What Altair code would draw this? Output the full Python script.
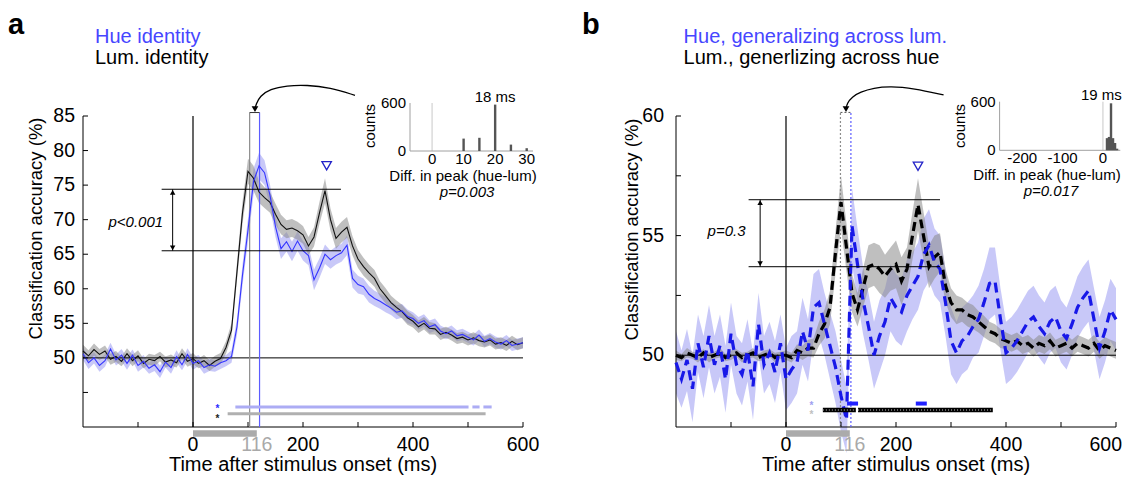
import altair as alt
import pandas as pd

FONT = "Liberation Sans"
W, H = 440, 311
XDOM = [-200, 600]

# ---------------- data ----------------
t = list(range(-200, 601, 10))

lum_a = [51.0, 50.3, 51.2, 50.5, 51.0, 49.8, 50.2, 49.5, 50.6, 49.6,
         50.3, 49.2, 49.8, 49.6, 50.2, 49.4, 49.7, 49.3, 50.6, 49.5,
         49.9, 49.2, 49.6, 48.9, 49.5, 49.9, 51.5, 54.0, 62.5, 71.0,
         77.0, 76.0, 74.0, 73.2, 72.5, 70.8, 69.3, 68.6, 68.8, 68.4,
         67.8, 66.2, 67.5, 71.0, 74.2, 70.0, 67.3, 68.2, 68.9, 66.2,
         64.3, 63.2, 62.3, 61.5, 60.0, 59.0, 58.0, 57.3, 56.7, 55.8,
         55.3, 54.5, 55.0, 54.3, 54.2, 53.4, 53.7, 53.3, 52.8, 53.0,
         52.6, 52.9, 52.5, 52.3, 52.6, 52.0, 52.2, 51.8, 52.4, 51.9, 52.2]
lum_a_sem = [0.9, 0.8, 0.9, 0.8, 0.8, 0.8, 0.8, 0.7, 0.8, 0.8,
             0.8, 0.7, 0.8, 0.8, 0.7, 0.8, 0.8, 0.7, 0.8, 0.8,
             0.8, 0.7, 0.8, 0.8, 0.8, 0.8, 0.9, 1.0, 1.3, 1.6,
             1.8, 1.8, 1.6, 1.5, 1.5, 1.5, 1.4, 1.3, 1.3, 1.3,
             1.3, 1.3, 1.4, 1.6, 1.8, 1.6, 1.5, 1.5, 1.5, 1.4,
             1.3, 1.3, 1.2, 1.2, 1.1, 1.1, 1.0, 1.0, 1.0, 1.0,
             0.9, 0.9, 0.9, 0.9, 0.8, 0.8, 0.8, 0.8, 0.8, 0.8,
             0.8, 0.8, 0.8, 0.8, 0.8, 0.8, 0.8, 0.8, 0.8, 0.8, 0.8]
hue_a = [50.6, 49.3, 50.0, 48.9, 49.6, 51.3, 49.7, 50.4, 49.2, 50.4,
         48.9, 49.5, 48.5, 49.0, 48.0, 49.4, 48.6, 50.2, 49.0, 50.5,
         49.2, 49.6, 48.6, 49.0, 48.8, 49.3, 49.6, 50.2, 54.5, 62.0,
         68.5, 75.5, 77.8, 76.8, 73.5, 69.0, 65.8, 66.8, 65.4, 66.9,
         65.5, 64.8, 61.3, 63.0, 65.0, 64.2, 64.8, 65.2, 66.3, 61.5,
         60.6, 60.3, 59.2, 58.6, 58.2, 57.7, 57.2, 56.6, 56.8, 56.0,
         55.7, 55.0, 55.4, 54.5, 54.8, 53.9, 53.5, 53.9, 53.2, 53.4,
         53.0, 52.6, 53.3, 52.4, 52.8, 52.3, 52.0, 52.5, 51.8, 52.0, 52.2]
hue_a_sem = [0.9, 0.9, 0.8, 0.9, 0.9, 0.9, 0.8, 0.9, 0.9, 0.8,
             0.9, 0.9, 0.8, 0.9, 0.9, 0.8, 0.9, 0.9, 0.8, 0.9,
             0.9, 0.8, 0.9, 0.9, 0.8, 0.9, 0.8, 0.9, 1.2, 1.5,
             1.7, 1.9, 1.9, 1.8, 1.6, 1.5, 1.5, 1.4, 1.4, 1.4,
             1.4, 1.4, 1.5, 1.4, 1.4, 1.3, 1.3, 1.3, 1.4, 1.3,
             1.3, 1.2, 1.2, 1.1, 1.1, 1.1, 1.0, 1.0, 1.0, 1.0,
             0.9, 0.9, 0.9, 0.9, 0.9, 0.8, 0.8, 0.8, 0.8, 0.8,
             0.8, 0.8, 0.8, 0.8, 0.8, 0.8, 0.8, 0.8, 0.8, 0.8, 0.8]

lum_b = [50.0, 49.9, 50.1, 50.0, 49.9, 50.1, 49.9, 50.0, 50.1, 49.9,
         50.0, 50.1, 49.9, 50.0, 50.1, 49.9, 50.0, 50.1, 49.9, 50.0,
         50.0, 49.9, 50.2, 50.1, 50.3, 50.3, 50.9, 51.3, 52.0, 54.3,
         56.4, 54.5, 52.6, 51.9, 52.8, 53.7, 53.8, 53.6, 53.3, 53.6,
         53.8, 53.1, 53.6, 55.0, 56.3, 55.0, 53.7, 54.1, 54.3, 52.9,
         52.2, 51.9, 51.9, 51.7, 51.6, 51.4, 51.2, 51.0, 50.9, 50.7,
         50.6, 50.5, 50.6, 50.4, 50.5, 50.3, 50.5, 50.4, 50.6, 50.3,
         50.4, 50.5, 50.3, 50.5, 50.4, 50.3, 50.5, 50.2, 50.4, 50.3, 50.2]
lum_b_sem = [0.2, 0.15, 0.2, 0.15, 0.2, 0.15, 0.2, 0.15, 0.2, 0.15,
             0.2, 0.15, 0.2, 0.15, 0.2, 0.15, 0.2, 0.15, 0.2, 0.15,
             0.2, 0.2, 0.25, 0.3, 0.35, 0.4, 0.5, 0.6, 0.7, 0.9,
             1.1, 1.0, 0.8, 0.7, 0.8, 0.9, 0.9, 1.0, 0.9, 0.9,
             1.0, 1.0, 0.9, 1.0, 1.1, 1.0, 0.9, 0.9, 0.8, 0.7,
             0.6, 0.6, 0.5, 0.5, 0.5, 0.45, 0.45, 0.4, 0.4, 0.4,
             0.35, 0.35, 0.35, 0.35, 0.35, 0.35, 0.35, 0.35, 0.35, 0.35,
             0.35, 0.35, 0.35, 0.35, 0.35, 0.35, 0.35, 0.35, 0.35, 0.35, 0.35]
hue_b = [49.7, 49.0, 49.8, 48.6, 50.5, 49.5, 50.8, 49.6, 50.4, 49.0,
         50.9, 49.6, 49.2, 50.2, 48.7, 51.3, 49.6, 50.1, 49.3, 50.5,
         49.0, 49.4, 49.7, 51.0, 50.2, 52.0, 52.2, 51.3, 50.4, 49.5,
         48.3, 47.3, 55.4, 53.8, 52.3, 51.2, 50.0, 50.8, 51.4, 52.4,
         52.0, 51.8, 52.5, 52.9, 53.3, 54.2, 54.6, 53.9, 53.6, 52.2,
         50.6, 50.1, 50.6, 50.8, 51.2, 51.5, 52.2, 53.0, 53.1, 51.5,
         50.1, 50.3, 50.6, 51.0, 51.4, 51.6, 51.2, 50.9, 51.4, 51.6,
         51.0, 50.7, 51.3, 52.0, 52.4, 52.7, 51.5, 50.3, 51.0, 51.9, 51.5]
hue_b_sem = [1.3, 1.2, 1.3, 1.4, 1.2, 1.3, 1.3, 1.2, 1.3, 1.4,
             1.3, 1.2, 1.3, 1.3, 1.4, 1.3, 1.2, 1.3, 1.3, 1.2,
             1.3, 1.4, 1.3, 1.4, 1.3, 1.4, 1.4, 1.3, 1.4, 1.5,
             1.5, 1.4, 1.6, 1.5, 1.4, 1.4, 1.4, 1.5, 1.4, 1.4,
             1.4, 1.4, 1.5, 1.4, 1.4, 1.5, 1.5, 1.4, 1.4, 1.4,
             1.4, 1.3, 1.4, 1.4, 1.3, 1.4, 1.4, 1.5, 1.4, 1.3,
             1.3, 1.3, 1.3, 1.3, 1.3, 1.3, 1.3, 1.3, 1.3, 1.3,
             1.3, 1.3, 1.3, 1.3, 1.3, 1.3, 1.3, 1.3, 1.3, 1.3, 1.3]

x_labels = [0, 116, 200, 400, 600]
x_ticks = [-100, 0, 100, 200, 300, 400, 500, 600]
stim = [0, 116]

# inset histograms (difference in peak latency, hue - lum)
a_bins = [10, 15, 20, 25, 30]
a_counts = [155, 165, 580, 80, 35]
b_bins = [10, 15, 20, 25, 30, 35]
b_counts = [150, 165, 580, 150, 90, 20]
ins_ylabels = [0, 600]

cfg_a = dict(
    letter="a", letter_x=-75, title1="Hue identity", title2="Lum. identity", title_x=12,
    ydom=[40, 85], ylabels=[50, 55, 60, 65, 70, 75, 80, 85],
    yticks=[45, 50, 55, 60, 65, 70, 75, 80, 85],
    ylab_pad=8, ytitle_x=-47.5, ytitle_y=112.5, edge_label=False,
    lum=lum_a, lum_sem=lum_a_sem, hue=hue_a, hue_sem=hue_a_sem, dashed=False,
    peaks=[103, 121], box_top=85.5,
    range_y=[74.4, 65.5], range_x=[-57, 269], arrow_x=-37,
    ptext="p<0.001", ptext_xy=[-104, 69.6],
    tri=[243, 77.8],
    sig_hue=[[77, 501], [508, 521], [528, 543]], sig_hue_y=42.9,
    sig_lum=[[63, 532]], sig_lum_y=41.9, star_x=48,
    curve_x=[294.5, 249.1, 206.7, 170.4, 140.0, 121.8, 114.5, 112.7],
    curve_y=[88.0, 89.1, 89.5, 89.4, 88.9, 87.9, 86.7, 86.0],
    ins_dom=[-7, 32], ins_xr=[327, 450], ins_yr=[35, -13], ins_xticks=[0, 10, 20, 30],
    bins=a_bins, counts=a_counts, diff_label="18 ms", diff_xy=[20, 671],
    ins_p="p=0.003", ins_p_x=384, ins_title_x=380, ins_ytitle_x=287,
)
cfg_b = dict(
    letter="b", letter_x=-94, title1="Hue, generalizing across lum.", title2="Lum., generlizing across hue",
    title_x=7.6,
    ydom=[47, 60], ylabels=[50, 55, 60], yticks=[50, 52.5, 55, 57.5, 60],
    ylab_pad=12, ytitle_x=-44, ytitle_y=113.5, edge_label=True,
    lum=lum_b, lum_sem=lum_b_sem, hue=hue_b, hue_sem=hue_b_sem, dashed=True,
    peaks=[99, 118], box_top=60.15,
    range_y=[56.5, 53.7], range_x=[-68, 280], arrow_x=-47,
    ptext="p=0.3", ptext_xy=[-108, 55.2],
    tri=[240, 57.9],
    sig_hue=[[111, 131], [236, 256]], sig_hue_y=47.98,
    sig_lum=[[67, 127], [131, 376]], sig_lum_y=47.71, star_x=50,
    curve_x=[286.5, 232.0, 189.6, 159.3, 135.1, 120.0, 110.9, 109.1],
    curve_y=[60.88, 61.15, 61.24, 61.17, 61.0, 60.8, 60.53, 60.29],
    ins_dom=[-256, 43], ins_xr=[323.6, 444.3], ins_yr=[34.3, -14.3], ins_xticks=[-200, -100, 0],
    bins=b_bins, counts=b_counts, diff_label="19 ms", diff_xy=[-4, 680],
    ins_p="p=0.017", ins_p_x=375, ins_title_x=371, ins_ytitle_x=284,
)

BLUE_LINE = "#3535ff"
BLUE_DASH = "#1818e8"
BLUE_TXT = "#4646ff"


def text_layer(s, x, y, **kw):
    return alt.Chart(pd.DataFrame({"s": [s]})).mark_text(font=FONT, **kw).encode(
        text="s:N", x=alt.value(x), y=alt.value(y))


def panel(c):
    xs = alt.Scale(domain=XDOM, nice=False, zero=False)
    ys = alt.Scale(domain=c["ydom"], nice=False, zero=False)

    def X(f):
        return alt.X(f, type="quantitative", scale=xs, axis=None)

    def Y(f):
        return alt.Y(f, type="quantitative", scale=ys, axis=None)

    df = pd.DataFrame({"t": t, "lum": c["lum"], "hue": c["hue"]})
    df["lum_lo"] = [v - s for v, s in zip(c["lum"], c["lum_sem"])]
    df["lum_hi"] = [v + s for v, s in zip(c["lum"], c["lum_sem"])]
    df["hue_lo"] = [v - s for v, s in zip(c["hue"], c["hue_sem"])]
    df["hue_hi"] = [v + s for v, s in zip(c["hue"], c["hue_sem"])]

    layers = []
    # bands
    layers.append(alt.Chart(df).mark_area(color="#8585f0", opacity=0.45).encode(
        x=X("t"), y=Y("hue_lo"), y2="hue_hi:Q"))
    layers.append(alt.Chart(df).mark_area(color="#8a8a8a", opacity=0.55).encode(
        x=X("t"), y=Y("lum_lo"), y2="lum_hi:Q"))

    # reference lines
    layers.append(alt.Chart(pd.DataFrame({"y": [50]})).mark_rule(color="black", strokeWidth=1).encode(y=Y("y")))
    layers.append(alt.Chart(pd.DataFrame({"x": [0]})).mark_rule(color="black", strokeWidth=1.2).encode(x=X("x")))

    # axis lines
    layers.append(alt.Chart(pd.DataFrame({"x": [XDOM[0]], "y0": [c["ydom"][0]], "y1": [c["ydom"][1]]})).mark_rule(
        color="black", strokeWidth=1).encode(x=X("x"), y=Y("y0"), y2="y1:Q"))
    layers.append(alt.Chart(pd.DataFrame({"y": [c["ydom"][0]], "x0": [XDOM[0]], "x1": [XDOM[1]]})).mark_rule(
        color="black", strokeWidth=1).encode(y=Y("y"), x=X("x0"), x2="x1:Q"))

    # peak latency lines and box
    ymin = c["ydom"][0]
    pk = pd.DataFrame({"x": c["peaks"], "y0": [ymin, ymin], "y1": [c["box_top"], c["box_top"]],
                       "col": ["#8c8c8c", "#5c5cff"]})
    top_df = pd.DataFrame({"x": [c["peaks"][0]], "x2": [c["peaks"][1]], "y": [c["box_top"]]})
    if c["dashed"]:
        pk_mark = alt.Chart(pk).mark_rule(strokeWidth=1.2, strokeDash=[2, 2])
        top_mark = alt.Chart(top_df).mark_rule(color="#555555", strokeWidth=1, strokeDash=[2, 2])
    else:
        pk_mark = alt.Chart(pk).mark_rule(strokeWidth=1.2)
        top_mark = alt.Chart(top_df).mark_rule(color="#333333", strokeWidth=1)
    layers.append(pk_mark.encode(x=X("x"), y=Y("y0"), y2="y1:Q", color=alt.Color("col:N", scale=None)))
    layers.append(top_mark.encode(x=X("x"), x2="x2:Q", y=Y("y")))

    # lines
    if c["dashed"]:
        layers.append(alt.Chart(df).mark_line(color="black", strokeWidth=3.2, strokeDash=[9, 5]).encode(
            x=X("t"), y=Y("lum")))
        layers.append(alt.Chart(df).mark_line(color=BLUE_DASH, strokeWidth=3.2, strokeDash=[10, 6]).encode(
            x=X("t"), y=Y("hue")))
    else:
        layers.append(alt.Chart(df).mark_line(color="#111111", strokeWidth=1.1).encode(x=X("t"), y=Y("lum")))
        layers.append(alt.Chart(df).mark_line(color=BLUE_LINE, strokeWidth=1.1).encode(x=X("t"), y=Y("hue")))

    # peak-difference annotation
    rng = pd.DataFrame({"y": c["range_y"], "x0": [c["range_x"][0]] * 2, "x1": [c["range_x"][1]] * 2})
    layers.append(alt.Chart(rng).mark_rule(color="black", strokeWidth=1).encode(x=X("x0"), x2="x1:Q", y=Y("y")))
    arr = pd.DataFrame({"x": [c["arrow_x"]], "y0": [c["range_y"][1]], "y1": [c["range_y"][0]]})
    layers.append(alt.Chart(arr).mark_rule(color="black", strokeWidth=1).encode(x=X("x"), y=Y("y0"), y2="y1:Q"))
    layers.append(alt.Chart(pd.DataFrame({"x": [c["arrow_x"]], "y": [c["range_y"][0]]})).mark_point(
        shape="triangle-up", filled=True, color="black", size=30, opacity=1, yOffset=3).encode(x=X("x"), y=Y("y")))
    layers.append(alt.Chart(pd.DataFrame({"x": [c["arrow_x"]], "y": [c["range_y"][1]]})).mark_point(
        shape="triangle-down", filled=True, color="black", size=30, opacity=1, yOffset=-3).encode(x=X("x"), y=Y("y")))
    layers.append(alt.Chart(pd.DataFrame({"s": [c["ptext"]], "x": [c["ptext_xy"][0]], "y": [c["ptext_xy"][1]]})).mark_text(
        font=FONT, fontSize=15, fontStyle="italic", color="black").encode(x=X("x"), y=Y("y"), text="s:N"))

    # triangle marker at second peak
    layers.append(alt.Chart(pd.DataFrame({"x": [c["tri"][0]], "y": [c["tri"][1]]})).mark_point(
        shape="triangle-down", filled=True, fill="white", stroke="#2323c8", strokeWidth=1.3, size=90,
        opacity=1).encode(x=X("x"), y=Y("y")))

    # significance bars
    sh = pd.DataFrame({"x0": [s[0] for s in c["sig_hue"]], "x1": [s[1] for s in c["sig_hue"]],
                       "y": [c["sig_hue_y"]] * len(c["sig_hue"])})
    sl = pd.DataFrame({"x0": [s[0] for s in c["sig_lum"]], "x1": [s[1] for s in c["sig_lum"]],
                       "y": [c["sig_lum_y"]] * len(c["sig_lum"])})
    if c["dashed"]:
        layers.append(alt.Chart(sh).mark_rule(color="#2020ff", strokeWidth=4).encode(x=X("x0"), x2="x1:Q", y=Y("y")))
        layers.append(alt.Chart(sl).mark_rule(color="black", strokeWidth=4.5).encode(x=X("x0"), x2="x1:Q", y=Y("y")))
        layers.append(alt.Chart(sl).mark_rule(color="#8a8a8a", strokeWidth=1.5, strokeDash=[1, 2]).encode(
            x=X("x0"), x2="x1:Q", y=Y("y")))
        star_cols = ["#a0a0f0", "#c0c0c0"]
    else:
        layers.append(alt.Chart(sh).mark_rule(color="#acacf4", strokeWidth=3).encode(x=X("x0"), x2="x1:Q", y=Y("y")))
        layers.append(alt.Chart(sl).mark_rule(color="#b0b0b0", strokeWidth=3).encode(x=X("x0"), x2="x1:Q", y=Y("y")))
        star_cols = ["#2b2bff", "#222222"]
    layers.append(alt.Chart(pd.DataFrame({"x": [c["star_x"]], "y": [c["sig_hue_y"]], "col": [star_cols[0]]})).mark_text(
        text="*", font=FONT, fontSize=10, fontWeight="bold", dy=2, align="right").encode(
        x=X("x"), y=Y("y"), color=alt.Color("col:N", scale=None)))
    layers.append(alt.Chart(pd.DataFrame({"x": [c["star_x"]], "y": [c["sig_lum_y"]], "col": [star_cols[1]]})).mark_text(
        text="*", font=FONT, fontSize=10, fontWeight="bold", dy=5, align="right").encode(
        x=X("x"), y=Y("y"), color=alt.Color("col:N", scale=None)))

    # stimulus duration bar (below the axis)
    layers.append(alt.Chart(pd.DataFrame({"x0": [stim[0]], "x1": [stim[1]]})).mark_rule(
        color="#ababab", strokeWidth=6.5).encode(x=X("x0"), x2="x1:Q", y=alt.value(H + 6.5)))

    # inward ticks
    layers.append(alt.Chart(pd.DataFrame({"x": x_ticks})).mark_rule(color="black", strokeWidth=1).encode(
        x=X("x"), y=alt.value(H), y2=alt.value(H - 5)))
    layers.append(alt.Chart(pd.DataFrame({"y": c["yticks"]})).mark_rule(color="black", strokeWidth=1).encode(
        y=Y("y"), x=alt.value(0), x2=alt.value(5)))

    # tick labels and axis titles
    lab_vals = x_labels[:-1] if c["edge_label"] else x_labels
    xl = pd.DataFrame({"v": lab_vals, "s": [str(v) for v in lab_vals],
                       "col": ["#a9a9a9" if v == stim[1] else "black" for v in lab_vals]})
    layers.append(alt.Chart(xl).mark_text(font=FONT, fontSize=19.5, baseline="middle", align="center").encode(
        x=X("v"), y=alt.value(H + 17.5), text="s:N", color=alt.Color("col:N", scale=None)))
    if c["edge_label"]:
        last = pd.DataFrame({"v": [x_labels[-1]], "s": [str(x_labels[-1])]})
        layers.append(alt.Chart(last).mark_text(font=FONT, fontSize=19.5, baseline="middle", align="right",
                                                dx=6, color="black").encode(
            x=X("v"), y=alt.value(H + 17.5), text="s:N"))
    yl = pd.DataFrame({"v": c["ylabels"], "s": [str(v) for v in c["ylabels"]]})
    layers.append(alt.Chart(yl).mark_text(font=FONT, fontSize=19.5, baseline="middle", align="right",
                                          color="black").encode(
        y=Y("v"), x=alt.value(-c["ylab_pad"]), text="s:N"))
    layers.append(text_layer("Time after stimulus onset (ms)", W / 2, H + 37.5, fontSize=20, align="center",
                             baseline="middle", color="black"))
    layers.append(text_layer("Classification accuracy (%)", c["ytitle_x"], c["ytitle_y"], fontSize=18.5,
                             align="center", baseline="middle", angle=270, color="black"))

    # curved arrow from inset to peak box
    cv = pd.DataFrame({"x": c["curve_x"], "y": c["curve_y"], "o": list(range(len(c["curve_x"])))})
    layers.append(alt.Chart(cv).mark_line(color="black", strokeWidth=1.3, interpolate="basis").encode(
        x=X("x"), y=Y("y"), order="o:Q"))
    layers.append(alt.Chart(pd.DataFrame({"x": [c["curve_x"][-1]], "y": [c["curve_y"][-1]]})).mark_point(
        shape="triangle-down", filled=True, color="black", size=45, opacity=1).encode(x=X("x"), y=Y("y")))

    # panel letter and titles
    layers.append(text_layer(c["letter"], c["letter_x"], -82, fontSize=29, fontWeight="bold", align="left",
                             baseline="alphabetic", color="black"))
    layers.append(text_layer(c["title1"], c["title_x"], -73.5, fontSize=20, align="left",
                             baseline="alphabetic", color=BLUE_TXT))
    layers.append(text_layer(c["title2"], c["title_x"], -52, fontSize=20, align="left",
                             baseline="alphabetic", color="black"))

    main = alt.layer(*layers)

    # ---------- inset histogram ----------
    ixs = alt.Scale(domain=c["ins_dom"], range=c["ins_xr"], nice=False, zero=False)
    iys = alt.Scale(domain=[0, 600], range=c["ins_yr"], nice=False, zero=False)

    def IX(f):
        return alt.X(f, type="quantitative", scale=ixs, axis=None)

    def IY(f):
        return alt.Y(f, type="quantitative", scale=iys, axis=None)

    hist = pd.DataFrame({"d": c["bins"], "n": c["counts"], "z": [0] * len(c["bins"])})
    ixl = pd.DataFrame({"v": c["ins_xticks"], "s": [str(v) for v in c["ins_xticks"]]})
    iyl = pd.DataFrame({"v": ins_ylabels, "s": [str(v) for v in ins_ylabels]})
    ins_layers = [
        alt.Chart(pd.DataFrame({"x": [0], "y0": [0], "y1": [600]})).mark_rule(color="#c8c8c8", strokeWidth=1).encode(
            x=IX("x"), y=IY("y0"), y2="y1:Q"),
        alt.Chart(pd.DataFrame({"x": [c["ins_dom"][0]], "y0": [0], "y1": [600]})).mark_rule(
            color="#a0a0a0", strokeWidth=1).encode(x=IX("x"), y=IY("y0"), y2="y1:Q"),
        alt.Chart(pd.DataFrame({"y": [0], "x0": [c["ins_dom"][0]], "x1": [c["ins_dom"][1]]})).mark_rule(
            color="#a0a0a0", strokeWidth=1).encode(y=IY("y"), x=IX("x0"), x2="x1:Q"),
        alt.Chart(hist).mark_rule(color="#555555", strokeWidth=2.4).encode(x=IX("d"), y=IY("n"), y2="z:Q"),
        alt.Chart(ixl).mark_text(font=FONT, fontSize=15, baseline="middle", align="center", color="black").encode(
            x=IX("v"), y=alt.value(c["ins_yr"][0] + 8), text="s:N"),
        alt.Chart(iyl).mark_text(font=FONT, fontSize=15, baseline="middle", align="right", color="black").encode(
            y=IY("v"), x=alt.value(c["ins_xr"][0] - 4), text="s:N"),
        alt.Chart(pd.DataFrame({"s": [c["diff_label"]], "x": [c["diff_xy"][0]], "y": [c["diff_xy"][1]]})).mark_text(
            font=FONT, fontSize=15, color="black", baseline="middle").encode(x=IX("x"), y=IY("y"), text="s:N"),
        text_layer("Diff. in peak (hue-lum)", c["ins_title_x"], c["ins_yr"][0] + 24.5, fontSize=15, color="black",
                   baseline="middle", align="center"),
        text_layer("counts", c["ins_ytitle_x"], 10, fontSize=15, color="black", baseline="middle",
                   align="center", angle=270),
        text_layer(c["ins_p"], c["ins_p_x"], c["ins_yr"][0] + 41, fontSize=15, fontStyle="italic", color="black",
                   baseline="middle", align="center"),
    ]
    inset = alt.layer(*ins_layers)

    return alt.layer(main, inset).resolve_scale(x="independent", y="independent").properties(width=W, height=H)


chart = alt.hconcat(panel(cfg_a), panel(cfg_b), spacing=153, bounds="flush").properties(
    padding={"left": 0, "top": 3, "right": 0, "bottom": 0}
).configure(font=FONT, view=alt.ViewConfig(stroke=None))

chart.save("out.html", embed_options={"renderer": "svg", "actions": False})
